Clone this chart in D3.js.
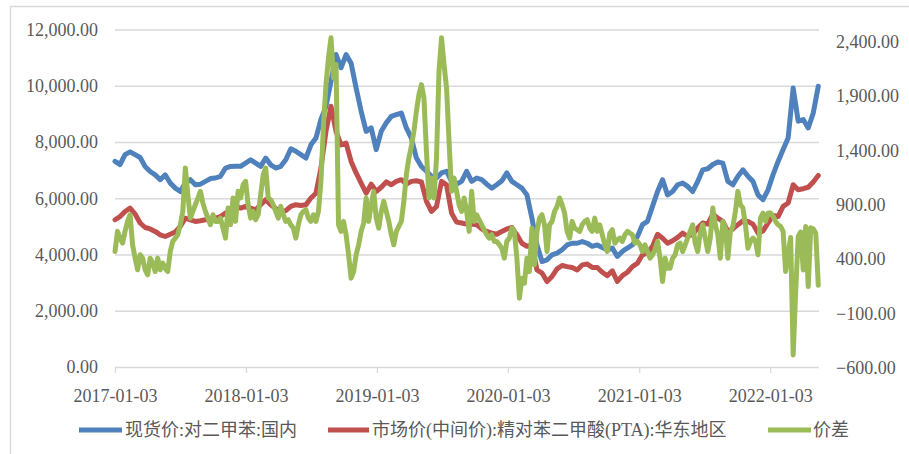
<!DOCTYPE html>
<html><head><meta charset="utf-8">
<script src="https://cdn.jsdelivr.net/npm/d3@7"></script>
<style>
body{margin:0;background:#fff;}
svg text{font-family:"Liberation Serif","Times New Roman","Noto Sans CJK SC",serif;fill:#595959;}
</style>
</head><body>
<svg id="chart" width="909" height="454"></svg>
<script>
// biweekly dates for the two price series
const dates = [
"2017-01-03","2017-01-17","2017-01-31","2017-02-14","2017-02-28","2017-03-14","2017-03-28","2017-04-11","2017-04-25","2017-05-09",
"2017-05-23","2017-06-06","2017-06-20","2017-07-04","2017-07-18","2017-08-01","2017-08-15","2017-08-29","2017-09-12","2017-09-26",
"2017-10-10","2017-10-24","2017-11-07","2017-11-21","2017-12-05","2017-12-19","2018-01-02","2018-01-16","2018-01-30","2018-02-13",
"2018-02-27","2018-03-13","2018-03-27","2018-04-10","2018-04-24","2018-05-08","2018-05-22","2018-06-05","2018-06-19","2018-07-03",
"2018-07-17","2018-07-31","2018-08-14","2018-08-28","2018-09-11","2018-09-25","2018-10-09","2018-10-23","2018-11-06","2018-11-20",
"2018-12-04","2018-12-18","2019-01-01","2019-01-15","2019-01-29","2019-02-12","2019-02-26","2019-03-12","2019-03-26","2019-04-09",
"2019-04-23","2019-05-07","2019-05-21","2019-06-04","2019-06-18","2019-07-02","2019-07-16","2019-07-30","2019-08-13","2019-08-27",
"2019-09-10","2019-09-24","2019-10-08","2019-10-22","2019-11-05","2019-11-19","2019-12-03","2019-12-17","2019-12-31","2020-01-14",
"2020-01-28","2020-02-11","2020-02-25","2020-03-10","2020-03-24","2020-04-07","2020-04-21","2020-05-05","2020-05-19","2020-06-02",
"2020-06-16","2020-06-30","2020-07-14","2020-07-28","2020-08-11","2020-08-25","2020-09-08","2020-09-22","2020-10-06","2020-10-20",
"2020-11-03","2020-11-17","2020-12-01","2020-12-15","2020-12-29","2021-01-12","2021-01-26","2021-02-09","2021-02-23","2021-03-09",
"2021-03-23","2021-04-06","2021-04-20","2021-05-04","2021-05-18","2021-06-01","2021-06-15","2021-06-29","2021-07-13","2021-07-27",
"2021-08-10","2021-08-24","2021-09-07","2021-09-21","2021-10-05","2021-10-19","2021-11-02","2021-11-16","2021-11-30","2021-12-14",
"2021-12-28","2022-01-11","2022-01-25","2022-02-08","2022-02-22","2022-03-08","2022-03-22","2022-04-05","2022-04-19","2022-05-03",
"2022-05-17"];

const pxSpot = [
7310,7200,7550,7650,7550,7450,7130,6950,6830,6660,
6830,6540,6360,6240,6540,6660,6480,6500,6600,6700,
6720,6780,7075,7130,7134,7134,7250,7370,7250,7134,
7430,7190,7075,7134,7370,7760,7670,7550,7430,7900,
8140,8800,9270,10160,11110,10640,11110,10800,9920,9090,
8380,8500,7730,8380,8680,8910,8970,9030,8500,8140,
7430,7130,6960,6780,6720,6900,6960,6600,6500,6600,
6960,6600,6720,6660,6500,6360,6480,6620,6900,6600,
6480,6360,6120,5290,4340,3750,3810,3990,4050,4170,
4340,4400,4400,4460,4400,4290,4340,4250,4170,4230,
3930,4110,4230,4340,4640,5060,5180,5710,6240,6660,
6120,6240,6480,6540,6420,6240,6600,7010,7050,7200,
7290,7250,6600,6480,6780,7010,6780,6600,6120,5950,
6300,6840,7310,7730,8140,9920,8740,8800,8500,9030,
9980];

const ptaPrice = [
5235,5350,5530,5650,5440,5120,4960,4910,4820,4700,
4640,4720,4800,5000,5290,5235,5175,5200,5235,5235,
5290,5350,5470,5590,5710,5650,5710,5650,5590,5770,
5950,5770,5630,5530,5560,5710,5770,5745,5770,6010,
6180,7075,8380,9270,8380,7900,7960,7310,6900,6540,
6180,6500,6240,6390,6580,6480,6600,6660,6500,6600,
6620,6580,5890,5530,5710,6600,6480,5470,5150,5120,
5080,5080,5060,4910,4820,4760,4720,4820,4910,4960,
4700,4400,4290,4340,3450,3340,3040,3220,3490,3610,
3570,3540,3450,3630,3660,3540,3540,3370,3250,3420,
3040,3250,3370,3570,3690,3990,4050,4290,4720,4580,
4400,4490,4610,4760,4640,4720,4940,5120,5080,5440,
5290,5175,4820,4910,5060,5200,5175,5080,4760,4840,
5120,5390,5350,5710,5830,6480,6300,6340,6390,6580,
6810];

// weekly dates for the spread series
const spreadDates = [
"2017-01-03","2017-01-10","2017-01-17","2017-01-24","2017-01-31","2017-02-07","2017-02-14","2017-02-21","2017-02-28","2017-03-07",
"2017-03-14","2017-03-21","2017-03-28","2017-04-04","2017-04-11","2017-04-18","2017-04-25","2017-05-02","2017-05-09","2017-05-16",
"2017-05-23","2017-05-30","2017-06-06","2017-06-13","2017-06-20","2017-06-27","2017-07-04","2017-07-11","2017-07-18","2017-07-25",
"2017-08-01","2017-08-08","2017-08-15","2017-08-22","2017-08-29","2017-09-05","2017-09-12","2017-09-19","2017-09-26","2017-10-03",
"2017-10-10","2017-10-17","2017-10-24","2017-10-31","2017-11-07","2017-11-14","2017-11-21","2017-11-28","2017-12-05","2017-12-12",
"2017-12-19","2017-12-26",
"2018-01-02","2018-01-09","2018-01-16","2018-01-23","2018-01-30","2018-02-06","2018-02-13","2018-02-20","2018-02-27","2018-03-06",
"2018-03-13","2018-03-20","2018-03-27","2018-04-03","2018-04-10","2018-04-17","2018-04-24","2018-05-01","2018-05-08","2018-05-15",
"2018-05-22","2018-05-29","2018-06-05","2018-06-12","2018-06-19","2018-06-26","2018-07-03","2018-07-10","2018-07-17","2018-07-24",
"2018-07-31","2018-08-07","2018-08-14","2018-08-21","2018-08-28","2018-09-04","2018-09-11","2018-09-18","2018-09-25","2018-10-02",
"2018-10-09","2018-10-16","2018-10-23","2018-10-30","2018-11-06","2018-11-13","2018-11-20","2018-11-27","2018-12-04","2018-12-11",
"2018-12-18","2018-12-25",
"2019-01-01","2019-01-08","2019-01-15","2019-01-22","2019-01-29","2019-02-05","2019-02-12","2019-02-19","2019-02-26","2019-03-05",
"2019-03-12","2019-03-19","2019-03-26","2019-04-02","2019-04-09","2019-04-16","2019-04-23","2019-04-30","2019-05-07","2019-05-14",
"2019-05-21","2019-05-28","2019-06-04","2019-06-11","2019-06-18","2019-06-25","2019-07-02","2019-07-09","2019-07-16","2019-07-23",
"2019-07-30","2019-08-06","2019-08-13","2019-08-20","2019-08-27","2019-09-03","2019-09-10","2019-09-17","2019-09-24","2019-10-01",
"2019-10-08","2019-10-15","2019-10-22","2019-10-29","2019-11-05","2019-11-12","2019-11-19","2019-11-26","2019-12-03","2019-12-10",
"2019-12-17","2019-12-24","2019-12-31",
"2020-01-07","2020-01-14","2020-01-21","2020-01-28","2020-02-04","2020-02-11","2020-02-18","2020-02-25","2020-03-03","2020-03-10",
"2020-03-17","2020-03-24","2020-03-31","2020-04-07","2020-04-14","2020-04-21","2020-04-28","2020-05-05","2020-05-12","2020-05-19",
"2020-05-26","2020-06-02","2020-06-09","2020-06-16","2020-06-23","2020-06-30","2020-07-07","2020-07-14","2020-07-21","2020-07-28",
"2020-08-04","2020-08-11","2020-08-18","2020-08-25","2020-09-01","2020-09-08","2020-09-15","2020-09-22","2020-09-29","2020-10-06",
"2020-10-13","2020-10-20","2020-10-27","2020-11-03","2020-11-10","2020-11-17","2020-11-24","2020-12-01","2020-12-08","2020-12-15",
"2020-12-22","2020-12-29",
"2021-01-05","2021-01-12","2021-01-19","2021-01-26","2021-02-02","2021-02-09","2021-02-16","2021-02-23","2021-03-02","2021-03-09",
"2021-03-16","2021-03-23","2021-03-30","2021-04-06","2021-04-13","2021-04-20","2021-04-27","2021-05-04","2021-05-11","2021-05-18",
"2021-05-25","2021-06-01","2021-06-08","2021-06-15","2021-06-22","2021-06-29","2021-07-06","2021-07-13","2021-07-20","2021-07-27",
"2021-08-03","2021-08-10","2021-08-17","2021-08-24","2021-08-31","2021-09-07","2021-09-14","2021-09-21","2021-09-28","2021-10-05",
"2021-10-12","2021-10-19","2021-10-26","2021-11-02","2021-11-09","2021-11-16","2021-11-23","2021-11-30","2021-12-07","2021-12-14",
"2021-12-21","2021-12-28",
"2022-01-04","2022-01-11","2022-01-18","2022-01-25","2022-02-01","2022-02-08","2022-02-15","2022-02-22","2022-03-01","2022-03-08",
"2022-03-15","2022-03-22","2022-03-29","2022-04-05","2022-04-12","2022-04-19","2022-04-26","2022-05-03","2022-05-10","2022-05-17"];

const spread = [
471,656,594,548,656,748,809,533,410,303,
441,410,303,257,410,364,287,410,303,364,
318,287,471,564,594,625,717,840,1239,993,
778,840,901,963,1024,916,840,778,717,809,
748,748,778,686,594,870,717,963,748,1024,
963,1085,
1116,901,778,840,763,809,993,1177,1239,963,
947,901,840,778,886,809,748,763,717,686,
594,717,809,840,855,778,748,809,748,840,
1116,1638,2006,2252,2436,2067,2190,717,656,748,
625,441,226,287,441,533,656,732,963,748,
901,1024,
778,686,840,932,840,748,625,533,656,702,
748,932,1177,1331,1438,1576,1760,1914,2006,1883,
1392,963,1147,963,1331,2129,2436,2190,1975,1484,
1024,1147,1024,901,840,963,840,656,1024,748,
809,763,717,671,625,594,625,564,564,533,
502,410,564,
594,686,656,410,42,226,180,410,287,686,
349,656,778,809,717,471,717,748,840,886,
963,901,824,656,594,748,686,671,656,717,
748,763,686,656,778,656,717,625,533,471,
640,671,548,579,594,564,625,656,640,625,
548,564,
533,471,533,471,410,441,487,564,410,195,
410,318,318,410,441,533,548,471,533,594,
656,717,548,471,640,717,594,471,594,870,
717,625,410,748,686,410,656,702,840,1024,
901,870,717,502,564,594,564,441,778,824,
748,824,
824,794,748,717,702,656,287,450,600,-480,
103,609,650,302,701,149,690,680,640,160];

const leftTicks = [0,2000,4000,6000,8000,10000,12000];
const rightTicks = [-600,-100,400,900,1400,1900,2400];
const xTickDates = ["2017-01-03","2018-01-03","2019-01-03","2020-01-03","2021-01-03","2022-01-03"];
const xDomain = ["2017-01-03","2022-05-19"];
const seriesNames = ["现货价:对二甲苯:国内","市场价(中间价):精对苯二甲酸(PTA):华东地区","价差"];
const colors = ["#4f81bd","#c0504d","#9bbb59"];

const parse = d3.timeParse("%Y-%m-%d");
const svg = d3.select("#chart");
const L = 115, R = 819, T = 29.5, B = 367;

const x = d3.scaleTime().domain(xDomain.map(parse)).range([L, R]);
const yL = d3.scaleLinear().domain([0, 12000]).range([B, T]);
const yR = d3.scaleLinear().domain([-600, 2400]).range([368, 41.7]);
const fmt = d3.format(",.2f");

// outer frame
svg.append("path").attr("d", "M10.5,454V6.5H909").attr("fill", "none")
  .attr("stroke", "#d9d9d9").attr("stroke-width", 1.3);

// left axis with gridlines
const gL = svg.append("g").attr("transform", `translate(${L},0)`)
  .call(d3.axisLeft(yL).tickValues(leftTicks).tickFormat(fmt)
    .tickSizeInner(-(R - L)).tickSizeOuter(0).tickPadding(17));
gL.select(".domain").remove();
gL.selectAll("line").attr("stroke", "#d9d9d9").attr("stroke-width", 1.3);
gL.selectAll("text").style("font-size", "18px").attr("fill", "#595959");

// right axis
const gR = svg.append("g").attr("transform", `translate(${R},0)`)
  .call(d3.axisRight(yR).tickValues(rightTicks).tickFormat(fmt)
    .tickSize(0).tickPadding(17));
gR.select(".domain").remove();
gR.selectAll("text").style("font-size", "18px").attr("fill", "#595959");

// bottom axis
const gB = svg.append("g").attr("transform", `translate(0,${B})`)
  .call(d3.axisBottom(x).tickValues(xTickDates.map(parse))
    .tickFormat(d3.timeFormat("%Y-%m-%d")).tickSizeInner(6).tickSizeOuter(0).tickPadding(16));
gB.select(".domain").remove();
gB.selectAll("line").attr("stroke", "#d9d9d9").attr("stroke-width", 1.3);
gB.selectAll("text").style("font-size", "18px").attr("fill", "#595959");

// lines
const series = [
  [dates.map(parse), pxSpot, yL],
  [dates.map(parse), ptaPrice, yL],
  [spreadDates.map(parse), spread, yR]
];
series.forEach(([ds, vals, ys], k) => {
  const line = d3.line().x((d, i) => x(ds[i])).y(d => ys(d));
  svg.append("path").attr("d", line(vals)).attr("fill", "none")
    .attr("stroke", colors[k]).attr("stroke-width", 5)
    .attr("stroke-linejoin", "round").attr("stroke-linecap", "round");
});

// legend
const legendPos = [[79, 122, 125], [328, 369, 372], [768, 811, 813]];
const lg = svg.append("g");
seriesNames.forEach((name, k) => {
  const [x1, x2, tx] = legendPos[k];
  lg.append("line").attr("x1", x1).attr("x2", x2).attr("y1", 430).attr("y2", 430)
    .attr("stroke", colors[k]).attr("stroke-width", 5);
  lg.append("text").attr("x", tx).attr("y", 430).attr("dy", "0.35em")
    .style("font-size", "18px").text(name);
});
</script>
</body></html>
